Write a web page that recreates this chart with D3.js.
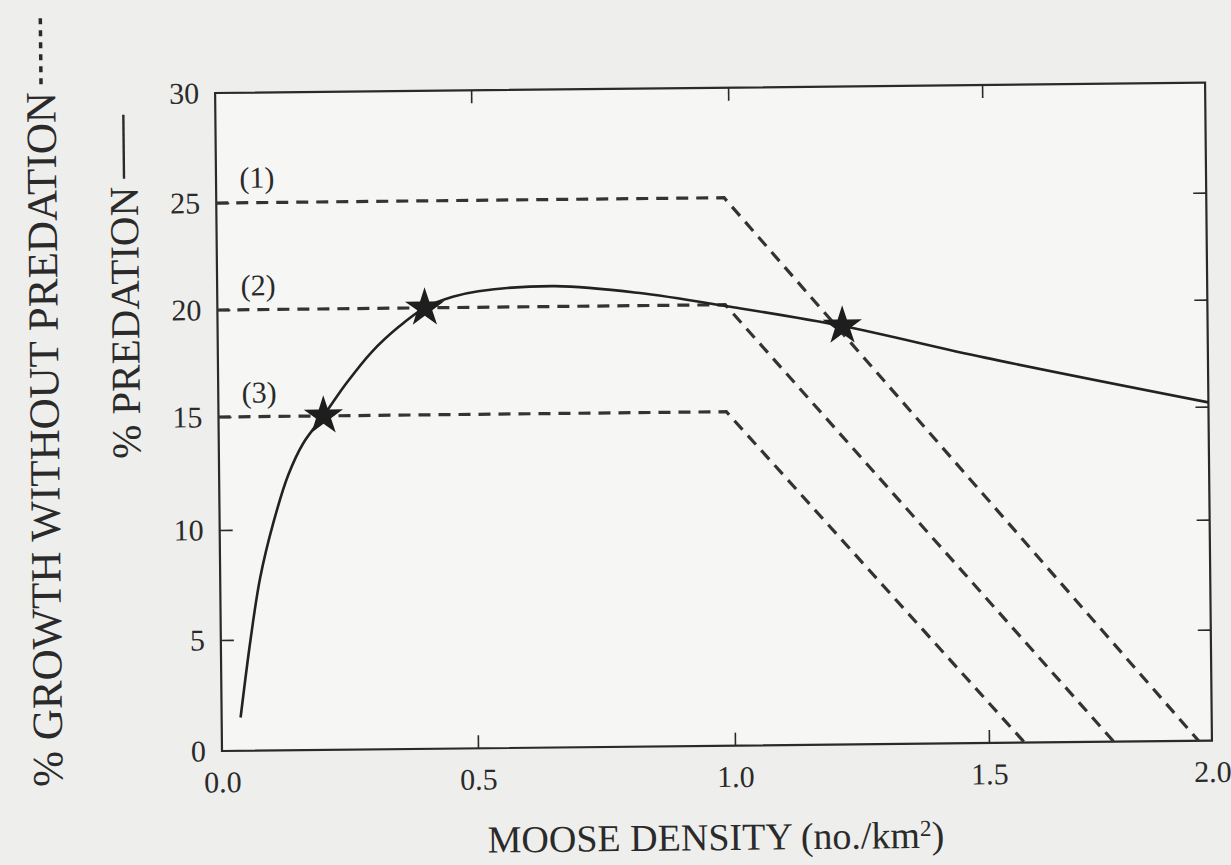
<!DOCTYPE html>
<html><head><meta charset="utf-8">
<script src="https://cdn.jsdelivr.net/npm/d3@7"></script>
<style>
body{margin:0;background:#eeeeec;}
svg{display:block;}
text{font-family:"Liberation Serif","DejaVu Serif",serif;fill:#2a2a2a;}
</style>
</head><body>
<svg id="c" width="1231" height="865"></svg>
<script>
// ---- data ----
const xTicks = [0.0, 0.5, 1.0, 1.5, 2.0];
const yTicks = [0, 5, 10, 15, 20, 25, 30];
// % predation curve (solid)
const predX = [0.037, 0.058, 0.078, 0.105, 0.135, 0.165, 0.205, 0.25, 0.30, 0.355, 0.405, 0.46, 0.51, 0.66, 0.82, 1.00, 1.22, 1.50, 2.00];
const predY = [1.5, 5.0, 7.8, 10.3, 12.4, 13.8, 15.0, 16.5, 17.95, 19.15, 20.0, 20.5, 20.75, 20.95, 20.6, 19.9, 18.95, 17.4, 15.2];
// % growth without predation (dashed), three scenarios
const growthNames = ["(1)", "(2)", "(3)"];
const growthPlateau = [25, 20, 15];
const growthBreakX = [0.99, 0.99, 0.99];
const growthZeroX = [1.97, 1.78, 1.58];
// equilibrium stars
const starX = [0.205, 0.405, 1.22];
const starY = [15.0, 20.0, 18.95];

// ---- drawing ----
const svg = d3.select("#c");
const ink = "#2a2a2a";
const g = svg.append("g").attr("transform", "rotate(-0.6,222,751)");

const x = d3.scaleLinear().domain(xTicks).range([222, 478, 735, 989, 1212]);
const y = d3.scaleLinear().domain(yTicks).range([751, 640, 530, 417, 310, 203, 93]);

// frame
g.append("rect")
  .attr("x", x(0)).attr("y", y(30))
  .attr("width", x(2) - x(0)).attr("height", y(0) - y(30))
  .attr("fill", "#f6f6f5").attr("stroke", ink).attr("stroke-width", 2.2);

function styleAxis(sel, fs) {
  sel.select(".domain").remove();
  sel.selectAll(".tick line").attr("stroke", ink).attr("stroke-width", 1.6);
  sel.selectAll(".tick text").attr("fill", ink).attr("font-size", fs)
     .attr("font-family", '"Liberation Serif", serif');
}

// bottom axis
g.append("g").attr("transform", `translate(0,${y(0)})`)
  .call(d3.axisBottom(x).tickValues(xTicks).tickSize(-13).tickPadding(20).tickFormat(d3.format(".1f")))
  .call(s => styleAxis(s, 30))
  .call(s => s.selectAll(".tick line").filter(d => d === 0 || d === 2).remove());
// left axis
g.append("g").attr("transform", `translate(${x(0)},0)`)
  .call(d3.axisLeft(y).tickValues(yTicks).tickSize(-13).tickPadding(16).tickFormat(d3.format("d")))
  .call(s => styleAxis(s, 30))
  .call(s => s.selectAll(".tick line").filter(d => d === 0 || d === 30).remove());
// top ticks
g.append("g").attr("transform", `translate(0,${y(30)})`)
  .call(d3.axisTop(x).tickValues(xTicks.slice(1, -1)).tickSize(-13).tickFormat(""))
  .call(s => styleAxis(s, 30));
// right ticks
g.append("g").attr("transform", `translate(${x(2)},0)`)
  .call(d3.axisRight(y).tickValues(yTicks.slice(1, -1)).tickSize(-13).tickFormat(""))
  .call(s => styleAxis(s, 30));

// dashed growth lines
const line = d3.line().x(d => x(d[0])).y(d => y(d[1]));
growthPlateau.forEach((p, i) => {
  const pts = [[0, p], [growthBreakX[i], p], [growthZeroX[i], 0]];
  g.append("path").attr("d", line(pts))
    .attr("fill", "none").attr("stroke", "#333").attr("stroke-width", 3.2)
    .attr("stroke-dasharray", "12,8");
  g.append("text")
    .attr("x", x(0.08)).attr("y", y(p + 1.15))
    .attr("text-anchor", "middle").attr("dy", "0.35em")
    .attr("font-size", 30).text(growthNames[i]);
});

// predation curve
const predPts = predX.map((d, i) => [d, predY[i]]);
g.append("path")
  .attr("d", d3.line().x(d => x(d[0])).y(d => y(d[1])).curve(d3.curveCatmullRom.alpha(0.5))(predPts))
  .attr("fill", "none").attr("stroke", "#222").attr("stroke-width", 2.6);

// stars
const star = d3.symbol().type(d3.symbolStar).size(480);
g.selectAll("path.star").data(starX).join("path")
  .attr("class", "star")
  .attr("transform", (d, i) => `translate(${x(d)},${y(starY[i])})`)
  .attr("d", star).attr("fill", "#1e1e1e");

// x title
g.append("text").attr("x", 715).attr("y", 842)
  .attr("text-anchor", "middle").attr("dy", "0.35em")
  .attr("font-size", 38)
  .html('MOOSE DENSITY (no./km<tspan baseline-shift="super" font-size="23">2</tspan>)');

// rotated y titles with line samples
function yTitle(tx, ty, label, fs, sampleLen, dash) {
  const tg = g.append("g").attr("transform", `translate(${tx},${ty}) rotate(-90)`);
  const t = tg.append("text").attr("x", 0).attr("y", 0).attr("dy", "0.33em")
    .attr("font-size", fs).text(label);
  const L = t.node().getComputedTextLength();
  tg.append("line").attr("x1", L + 8).attr("x2", L + 8 + sampleLen)
    .attr("y1", 0).attr("y2", 0)
    .attr("stroke", ink).attr("stroke-width", dash ? 3.5 : 2.4)
    .attr("stroke-dasharray", dash || null);
}
yTitle(130, 458, "% PREDATION", 41, 64, null);
yTitle(48, 785, "% GROWTH WITHOUT PREDATION", 43, 70, "6,6");
</script>
</body></html>
